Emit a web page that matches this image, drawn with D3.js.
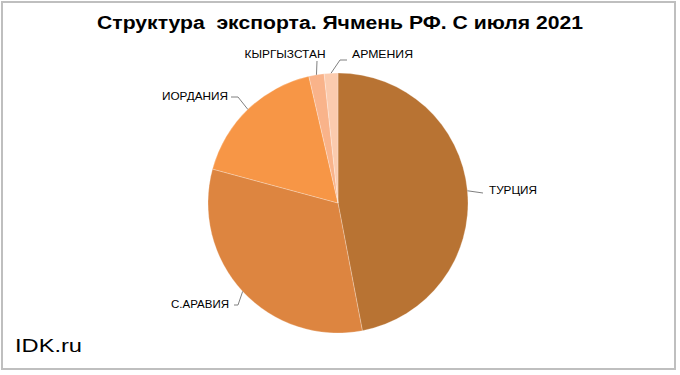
<!DOCTYPE html>
<html>
<head>
<meta charset="utf-8">
<script src="https://cdn.jsdelivr.net/npm/d3@7"></script>
<style>
  body { margin: 0; background: #fff; }
  text { font-family: Arial, "Liberation Sans", sans-serif; }
</style>
</head>
<body>
<svg id="chart" width="680" height="375"></svg>
<script>
// данные (доли, %), читаются с картинки
let countries = ["ТУРЦИЯ", "С.АРАВИЯ", "ИОРДАНИЯ", "КЫРГЫЗСТАН", "АРМЕНИЯ"];
let shares = [47.0, 32.2, 17.2, 1.9, 1.7];
let colors = ["#B87333", "#DD8540", "#F79646", "#F9B38A", "#FBCBAE"];

// куда ставить подписи (точка излома и текст)
let labelPos = [
  {ex: 483, ey: 193, tx: 489, ty: 194, anchor: "start", hx: 0},
  {ex: 238, ey: 305, tx: 229, ty: 308, anchor: "end", hx: 234},
  {ex: 238, ey: 97, tx: 228, ty: 100, anchor: "end", hx: 231},
  {ex: 317, ey: 61, tx: 285, ty: 58, anchor: "middle", hx: 0},
  {ex: 340, ey: 60, tx: 352, ty: 58, anchor: "start", hx: 347}
];
let labelW = [48, 58, 66, 81, 61];

let cx = 338, cy = 203, radius = 130;

let svg = d3.select("#chart");

svg.append("rect")
  .attr("x", 2).attr("y", 2)
  .attr("width", 673).attr("height", 367)
  .attr("fill", "#fff")
  .attr("stroke", "#BFBFBF")
  .attr("stroke-width", 2);

svg.append("text")
  .attr("x", 340).attr("y", 29)
  .attr("text-anchor", "middle")
  .attr("font-size", 18)
  .attr("font-weight", "bold")
  .attr("textLength", 486)
  .attr("lengthAdjust", "spacingAndGlyphs")
  .style("white-space", "pre")
  .text("Структура  экспорта. Ячмень РФ. С июля 2021");

let data = countries.map((c, i) => ({name: c, value: shares[i], color: colors[i], pos: labelPos[i], w: labelW[i]}));

let pie = d3.pie().sort(null).value(d => d.value);
let arc = d3.arc().innerRadius(0).outerRadius(radius);
let arcs = pie(data);

let g = svg.append("g").attr("transform", `translate(${cx},${cy})`);

g.selectAll("path")
  .data(arcs)
  .join("path")
  .attr("d", arc)
  .attr("fill", d => d.data.color)
  .attr("stroke", "#fff")
  .attr("stroke-opacity", 0.5)
  .attr("stroke-width", 0.5);

// выноски
svg.append("g")
  .attr("fill", "none")
  .attr("stroke", "#808080")
  .attr("stroke-width", 1)
  .selectAll("path")
  .data(arcs)
  .join("path")
  .attr("d", d => {
    let a = (d.startAngle + d.endAngle) / 2;
    let x0 = cx + radius * Math.sin(a);
    let y0 = cy - radius * Math.cos(a);
    let p = d.data.pos;
    let s = `M${x0},${y0}L${p.ex},${p.ey}`;
    if (p.hx) s += `L${p.hx},${p.ey}`;
    return s;
  });

svg.append("g")
  .attr("font-size", 11)
  .attr("fill", "#000")
  .selectAll("text")
  .data(arcs)
  .join("text")
  .attr("x", d => d.data.pos.tx)
  .attr("y", d => d.data.pos.ty)
  .attr("text-anchor", d => d.data.pos.anchor)
  .attr("textLength", d => d.data.w)
  .attr("lengthAdjust", "spacingAndGlyphs")
  .text(d => d.data.name);

svg.append("text")
  .attr("x", 15).attr("y", 352)
  .attr("font-size", 18)
  .attr("textLength", 67)
  .attr("lengthAdjust", "spacingAndGlyphs")
  .text("IDK.ru");
</script>
</body>
</html>
